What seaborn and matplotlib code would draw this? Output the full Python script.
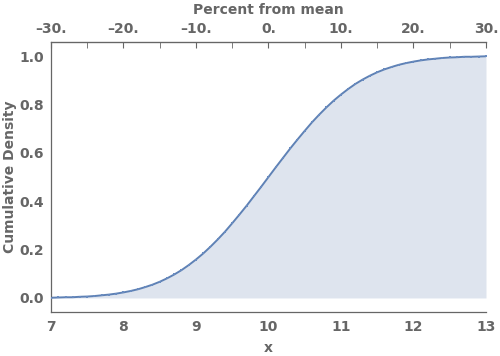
import numpy as np
import pandas as pd
import matplotlib
matplotlib.use("Agg")
import matplotlib.pyplot as plt
import seaborn as sns

x_vals = [7.0, 7.1, 7.2, 7.3, 7.4, 7.5, 7.6, 7.7, 7.8, 7.9,
          8.0, 8.1, 8.2, 8.3, 8.4, 8.5, 8.6, 8.7, 8.8, 8.9,
          9.0, 9.1, 9.2, 9.3, 9.4, 9.5, 9.6, 9.7, 9.8, 9.9,
          10.0, 10.1, 10.2, 10.3, 10.4, 10.5, 10.6, 10.7, 10.8, 10.9,
          11.0, 11.1, 11.2, 11.3, 11.4, 11.5, 11.6, 11.7, 11.8, 11.9,
          12.0, 12.1, 12.2, 12.3, 12.4, 12.5, 12.6, 12.7, 12.8, 12.9, 13.0]
cdf_vals = [0.001, 0.002, 0.003, 0.003, 0.005, 0.006, 0.008, 0.011, 0.014, 0.018,
            0.023, 0.029, 0.036, 0.045, 0.055, 0.067, 0.081, 0.097, 0.115, 0.136,
            0.159, 0.184, 0.212, 0.242, 0.274, 0.309, 0.345, 0.382, 0.421, 0.460,
            0.500, 0.540, 0.579, 0.618, 0.655, 0.691, 0.726, 0.758, 0.788, 0.816,
            0.841, 0.864, 0.885, 0.903, 0.919, 0.933, 0.945, 0.955, 0.964, 0.971,
            0.977, 0.982, 0.986, 0.989, 0.992, 0.994, 0.995, 0.997, 0.997, 0.998, 0.999]

x_ticks = [7, 8, 9, 10, 11, 12, 13]
y_ticks = [0.0, 0.2, 0.4, 0.6, 0.8, 1.0]
pct_ticks = [-30, -20, -10, 0, 10, 20, 30]
pct_labels = ["\u201330.", "\u201320.", "\u201310.", "0.", "10.", "20.", "30."]

MEAN = 10.0
LINE = "#5E81B5"
FILL = "#DEE4EE"
TEXT = "#666666"

df = pd.DataFrame({"x": x_vals, "cdf": cdf_vals})

sns.set_style("white")
plt.rcParams["font.family"] = ["DejaVu Sans"]

fig = plt.figure(figsize=(5.0, 3.56), dpi=100)
ax = fig.add_axes([0.102, 0.1236, 0.870, 0.7584])

ax.fill_between(df["x"], 0, df["cdf"], color=FILL, linewidth=0)
sns.lineplot(data=df, x="x", y="cdf", ax=ax, color=LINE, linewidth=1.4)
sns.scatterplot(data=df, x="x", y="cdf", ax=ax, color="#6A8CC0", marker="s",
                s=4.5, linewidth=0, zorder=3)

ax.set_xlim(7, 13)
ax.set_ylim(-0.058, 1.058)

ax.set_xticks(x_ticks)
ax.set_xticks(np.arange(7, 13.01, 0.2), minor=True)
ax.set_yticks(y_ticks)
ax.set_yticks(np.arange(0, 1.051, 0.05), minor=True)
ax.set_xticklabels([str(t) for t in x_ticks])
ax.set_yticklabels([f"{t:.1f}" for t in y_ticks])

ax.tick_params(axis="both", which="major", direction="in", length=4, width=0.8,
               color=TEXT, labelcolor=TEXT, labelsize=10)
ax.tick_params(axis="both", which="minor", direction="in", length=2.2, width=0.6,
               color=TEXT)
ax.tick_params(axis="x", pad=6)
ax.tick_params(axis="y", pad=5)
for lab in ax.get_xticklabels() + ax.get_yticklabels():
    lab.set_fontweight("bold")

for side in ["left", "bottom", "top"]:
    ax.spines[side].set_visible(True)
    ax.spines[side].set_color(TEXT)
    ax.spines[side].set_linewidth(0.9)
ax.spines["right"].set_visible(False)

ax.set_xlabel("x", color=TEXT, fontsize=10, fontweight="bold", labelpad=5)
ax.set_ylabel("Cumulative Density", color=TEXT, fontsize=10, fontweight="bold", labelpad=2)

# secondary axis: percent away from the mean
top = ax.secondary_xaxis("top", functions=(lambda v: (v - MEAN) / MEAN * 100,
                                           lambda p: MEAN + p * MEAN / 100))
top.set_xticks(pct_ticks)
top.set_xticklabels(pct_labels)
top.set_xticks(np.arange(-30, 31, 5), minor=True)
top.tick_params(axis="x", which="major", direction="in", length=4, width=0.8,
                color=TEXT, labelcolor=TEXT, labelsize=10, pad=4)
top.tick_params(axis="x", which="minor", direction="in", length=4, width=0.6, color=TEXT)
for lab in top.get_xticklabels():
    lab.set_fontweight("bold")
top.spines["top"].set_color(TEXT)
top.set_xlabel("Percent from mean", color=TEXT, fontsize=10, fontweight="bold", labelpad=6)

fig.savefig("out.png", dpi=100)
